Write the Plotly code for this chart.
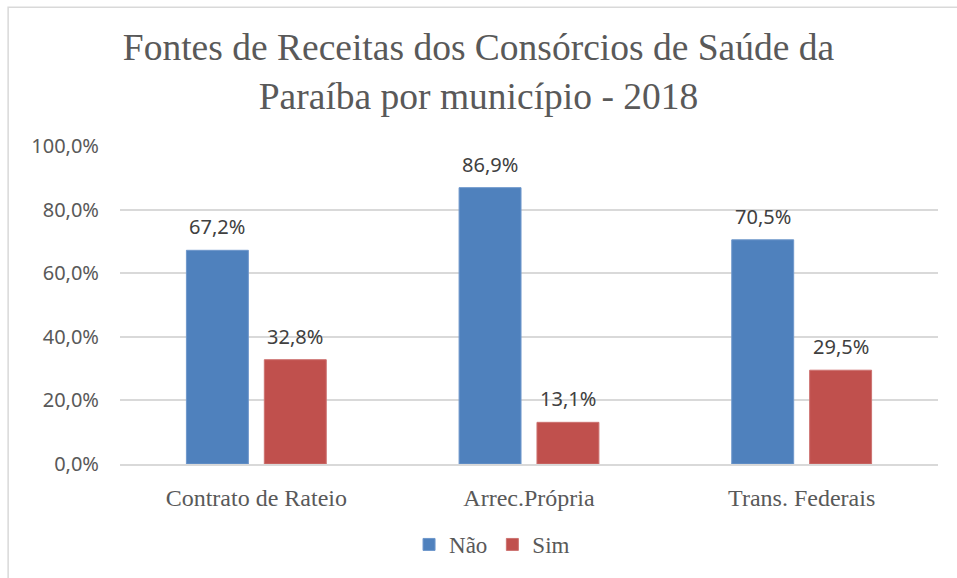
import plotly.graph_objects as go

categories = ["Contrato de Rateio", "Arrec.Própria", "Trans. Federais"]
nao_values = [67.2, 86.9, 70.5]
sim_values = [32.8, 13.1, 29.5]
y_ticks = [0, 20, 40, 60, 80, 100]
y_tick_labels = ["0,0%", "20,0%", "40,0%", "60,0%", "80,0%", "100,0%"]

def fmt(v):
    return f"{v:.1f}".replace(".", ",") + "%"

W, H = 957, 578
L, R, T, B = 119.5, 18.5, 146, 112
pw, ph = W - L - R, H - T - B

BLUE = "#4F81BD"
RED = "#C0504D"
SERIF = "Liberation Serif"
SANS = "Noto Sans"

fig = go.Figure()
fig.add_trace(go.Bar(name="Não", x=categories, y=nao_values, marker_color=BLUE,
                     marker_line=dict(color="#6E97CB", width=1)))
fig.add_trace(go.Bar(name="Sim", x=categories, y=sim_values, marker_color=RED,
                     marker_line=dict(color="#CD7270", width=1)))

slot = pw / 3 * (1 - 0.4286) / 2
annotations = []
for c, v in zip(categories, nao_values):
    annotations.append(dict(x=c, y=v, text=fmt(v), showarrow=False, xshift=-slot / 2,
                            yshift=8, yanchor="bottom",
                            font=dict(family=SANS, size=20, color="#404040")))
for c, v in zip(categories, sim_values):
    annotations.append(dict(x=c, y=v, text=fmt(v), showarrow=False, xshift=slot / 2,
                            yshift=8, yanchor="bottom",
                            font=dict(family=SANS, size=20, color="#404040")))

fig.update_layout(
    width=W, height=H,
    font=dict(family=SERIF, color="#595959"),
    margin=dict(l=L, r=R, t=T, b=B, pad=0),
    paper_bgcolor="white", plot_bgcolor="white",
    barmode="group", bargap=0.4286, bargroupgap=0.205,
    title=dict(text="Fontes de Receitas dos Consórcios de Saúde da<br>Paraíba por município - 2018",
               x=0.5, xanchor="center", y=1 - 60 / H, yanchor="middle", yref="container",
               font=dict(family=SERIF, size=37.5, color="#595959")),
    xaxis=dict(showgrid=False, showline=True, linecolor="#D9D9D9", linewidth=1.5,
               ticks="", ticklabelstandoff=11,
               tickfont=dict(family=SERIF, size=24, color="#595959")),
    yaxis=dict(range=[0, 100], tickvals=y_ticks, ticktext=y_tick_labels,
               showgrid=True, gridcolor="#D9D9D9", gridwidth=1.5, zeroline=False,
               showline=False, ticks="", ticklabelstandoff=20,
               tickfont=dict(family=SANS, size=20, color="#595959")),
    legend=dict(orientation="h", x=0.5 - 37 / pw, xanchor="center", y=-(547 - 466) / ph,
                yanchor="middle",
                font=dict(family="Liberation Serif, serif", size=23, color="#595959"),
                itemwidth=30, traceorder="normal"),
    annotations=annotations,
    shapes=[dict(type="rect", xref="paper", yref="paper",
                 x0=(7.5 - L) / pw, x1=1.2, y0=-0.5, y1=(466 - 6.5) / ph,
                 line=dict(color="#D9D9D9", width=1.5), fillcolor="rgba(0,0,0,0)", layer="below")],
)

fig.write_html("out.html", config={"displayModeBar": False},
               post_script="document.body.style.margin='0px';document.body.style.overflow='hidden';")
